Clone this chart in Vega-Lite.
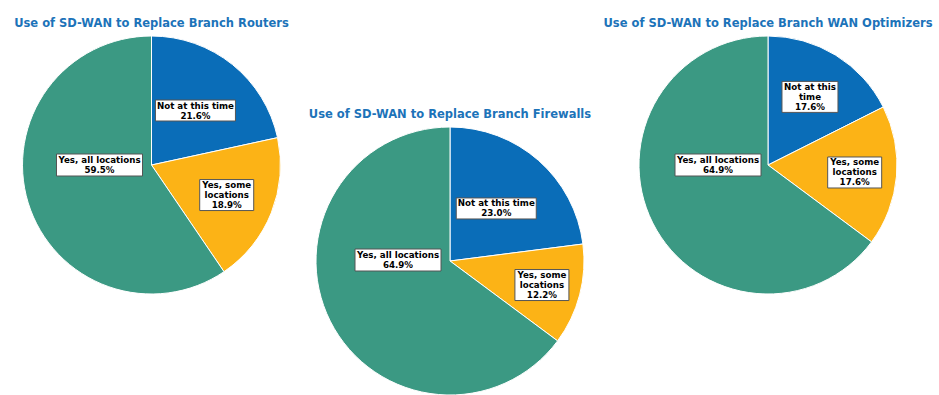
{
  "$schema": "https://vega.github.io/schema/vega-lite/v6.json",
  "padding": {"left": 6, "top": 17, "right": 0, "bottom": 0},
  "background": "white",
  "config": {
    "view": {"stroke": null},
    "title": {"font": "DejaVu Sans", "fontSize": 11.5, "fontWeight": "bold", "color": "#1c73b9", "anchor": "middle", "frame": "group", "offset": 5},
    "text": {"lineBreak": "\n", "font": "DejaVu Sans", "fontWeight": "bold", "fontSize": 8.7, "lineHeight": 10, "baseline": "top", "align": "center", "color": "black"},
    "point": {"size": 4, "filled": true, "fill": "white", "stroke": "#555", "strokeWidth": 1, "opacity": 1}
  },
  "datasets": {
    "routers": [
      {"cat": "Not at this time", "label": "Not at this time", "pct": 0.216, "order": 1},
      {"cat": "Yes, some locations", "label": "Yes, some\nlocations", "pct": 0.189, "order": 2},
      {"cat": "Yes, all locations", "label": "Yes, all locations", "pct": 0.595, "order": 3}
    ],
    "firewalls": [
      {"cat": "Not at this time", "label": "Not at this time", "pct": 0.230, "order": 1},
      {"cat": "Yes, some locations", "label": "Yes, some\nlocations", "pct": 0.122, "order": 2},
      {"cat": "Yes, all locations", "label": "Yes, all locations", "pct": 0.649, "order": 3}
    ],
    "optimizers": [
      {"cat": "Not at this time", "label": "Not at this\ntime", "pct": 0.176, "order": 1},
      {"cat": "Yes, some locations", "label": "Yes, some\nlocations", "pct": 0.176, "order": 2},
      {"cat": "Yes, all locations", "label": "Yes, all locations", "pct": 0.649, "order": 3}
    ]
  },
  "spacing": 0,
  "resolve": {"scale": {"shape": "independent", "color": "independent", "x": "independent", "y": "independent"}},
  "hconcat": [
    {
      "width": 291, "height": 258,
      "title": "Use of SD-WAN to Replace Branch Routers",
      "data": {"name": "routers"},
      "transform": [
        {"joinaggregate": [{"op": "sum", "field": "pct", "as": "total"}]},
        {"window": [{"op": "sum", "field": "pct", "as": "cum"}], "sort": [{"field": "order", "order": "ascending"}], "frame": [null, 0]},
        {"calculate": "2 * PI * (datum.cum - datum.pct / 2) / datum.total", "as": "mid"},
        {"calculate": "datum.cat === 'Not at this time' ? 70 : 81", "as": "lr"},
        {"calculate": "datum.cat === 'Yes, all locations' ? -52 : datum.lr * sin(datum.mid)", "as": "bx"},
        {"calculate": "datum.cat === 'Yes, all locations' ? 0 : datum.lr * cos(datum.mid)", "as": "by"},
        {"calculate": "indexof(datum.label, '\\n') >= 0 ? 5 : 0", "as": "nl"},
        {"calculate": "datum.by + datum.nl", "as": "ty"},
        {"calculate": "datum.by - datum.nl", "as": "py"}
      ],
      "layer": [
        {"mark": {"type": "arc", "stroke": "white", "strokeWidth": 1},
         "encoding": {
           "theta": {"field": "pct", "type": "quantitative", "stack": true},
           "order": {"field": "order", "type": "quantitative"},
           "color": {"field": "cat", "type": "nominal", "legend": null,
             "scale": {"domain": ["Not at this time", "Yes, some locations", "Yes, all locations"], "range": ["#0a6db8", "#fcb316", "#3b9983"]}}}},
        {"mark": {"type": "point"},
         "encoding": {
           "x": {"field": "bx", "type": "quantitative", "scale": {"domain": [-145.5, 145.5], "nice": false, "zero": false}, "axis": null},
           "y": {"field": "by", "type": "quantitative", "scale": {"domain": [-129, 129], "nice": false, "zero": false}, "axis": null},
           "shape": {"field": "cat", "type": "nominal", "legend": null,
             "scale": {"domain": ["Not at this time", "Yes, some locations", "Yes, all locations"], "range": ["M-40,-10.5H40V10.5H-40Z", "M-27,-15.5H27V15.5H-27Z", "M-43,-11H43V11H-43Z"]}}}},
        {"mark": {"type": "text", "dy": -9},
         "encoding": {
           "x": {"field": "bx", "type": "quantitative", "scale": {"domain": [-145.5, 145.5], "nice": false, "zero": false}, "axis": null},
           "y": {"field": "ty", "type": "quantitative", "scale": {"domain": [-129, 129], "nice": false, "zero": false}, "axis": null},
           "text": {"field": "label"}}},
        {"mark": {"type": "text", "dy": 1},
         "encoding": {
           "x": {"field": "bx", "type": "quantitative", "scale": {"domain": [-145.5, 145.5], "nice": false, "zero": false}, "axis": null},
           "y": {"field": "py", "type": "quantitative", "scale": {"domain": [-129, 129], "nice": false, "zero": false}, "axis": null},
           "text": {"field": "pct", "type": "quantitative", "format": ".1%"}}}
      ]
    },
    {
      "spacing": 0,
      "resolve": {"scale": {"shape": "independent", "color": "independent", "x": "independent", "y": "independent"}},
      "vconcat": [
        {"width": 306, "height": 72, "data": {"values": []}, "mark": "point"},
        {
          "width": 306, "height": 268,
          "title": "Use of SD-WAN to Replace Branch Firewalls",
          "data": {"name": "firewalls"},
          "transform": [
            {"joinaggregate": [{"op": "sum", "field": "pct", "as": "total"}]},
            {"window": [{"op": "sum", "field": "pct", "as": "cum"}], "sort": [{"field": "order", "order": "ascending"}], "frame": [null, 0]},
            {"calculate": "2 * PI * (datum.cum - datum.pct / 2) / datum.total", "as": "mid"},
            {"calculate": "datum.cat === 'Not at this time' ? 70 : 95", "as": "lr"},
            {"calculate": "datum.cat === 'Yes, all locations' ? -52 : datum.lr * sin(datum.mid)", "as": "bx"},
            {"calculate": "datum.cat === 'Yes, all locations' ? 1 : datum.lr * cos(datum.mid)", "as": "by"},
            {"calculate": "indexof(datum.label, '\\n') >= 0 ? 5 : 0", "as": "nl"},
            {"calculate": "datum.by + datum.nl", "as": "ty"},
            {"calculate": "datum.by - datum.nl", "as": "py"}
          ],
          "layer": [
            {"mark": {"type": "arc", "stroke": "white", "strokeWidth": 1},
             "encoding": {
               "theta": {"field": "pct", "type": "quantitative", "stack": true},
               "order": {"field": "order", "type": "quantitative"},
               "color": {"field": "cat", "type": "nominal", "legend": null,
                 "scale": {"domain": ["Not at this time", "Yes, some locations", "Yes, all locations"], "range": ["#0a6db8", "#fcb316", "#3b9983"]}}}},
            {"mark": {"type": "point"},
             "encoding": {
               "x": {"field": "bx", "type": "quantitative", "scale": {"domain": [-153, 153], "nice": false, "zero": false}, "axis": null},
               "y": {"field": "by", "type": "quantitative", "scale": {"domain": [-134, 134], "nice": false, "zero": false}, "axis": null},
               "shape": {"field": "cat", "type": "nominal", "legend": null,
                 "scale": {"domain": ["Not at this time", "Yes, some locations", "Yes, all locations"], "range": ["M-40,-10.5H40V10.5H-40Z", "M-27,-15.5H27V15.5H-27Z", "M-43,-11H43V11H-43Z"]}}}},
            {"mark": {"type": "text", "dy": -9},
             "encoding": {
               "x": {"field": "bx", "type": "quantitative", "scale": {"domain": [-153, 153], "nice": false, "zero": false}, "axis": null},
               "y": {"field": "ty", "type": "quantitative", "scale": {"domain": [-134, 134], "nice": false, "zero": false}, "axis": null},
               "text": {"field": "label"}}},
            {"mark": {"type": "text", "dy": 1},
             "encoding": {
               "x": {"field": "bx", "type": "quantitative", "scale": {"domain": [-153, 153], "nice": false, "zero": false}, "axis": null},
               "y": {"field": "py", "type": "quantitative", "scale": {"domain": [-134, 134], "nice": false, "zero": false}, "axis": null},
               "text": {"field": "pct", "type": "quantitative", "format": ".1%"}}}
          ]
        }
      ]
    },
    {
      "width": 330, "height": 258,
      "title": "Use of SD-WAN to Replace Branch WAN Optimizers",
      "data": {"name": "optimizers"},
      "transform": [
        {"joinaggregate": [{"op": "sum", "field": "pct", "as": "total"}]},
        {"window": [{"op": "sum", "field": "pct", "as": "cum"}], "sort": [{"field": "order", "order": "ascending"}], "frame": [null, 0]},
        {"calculate": "2 * PI * (datum.cum - datum.pct / 2) / datum.total", "as": "mid"},
        {"calculate": "datum.cat === 'Not at this time' ? 80 : 87", "as": "lr"},
        {"calculate": "datum.cat === 'Yes, all locations' ? -50 : datum.lr * sin(datum.mid)", "as": "bx"},
        {"calculate": "datum.cat === 'Yes, all locations' ? 0 : datum.lr * cos(datum.mid)", "as": "by"},
        {"calculate": "indexof(datum.label, '\\n') >= 0 ? 5 : 0", "as": "nl"},
        {"calculate": "datum.by + datum.nl", "as": "ty"},
        {"calculate": "datum.by - datum.nl", "as": "py"}
      ],
      "layer": [
        {"mark": {"type": "arc", "stroke": "white", "strokeWidth": 1},
         "encoding": {
           "theta": {"field": "pct", "type": "quantitative", "stack": true},
           "order": {"field": "order", "type": "quantitative"},
           "color": {"field": "cat", "type": "nominal", "legend": null,
             "scale": {"domain": ["Not at this time", "Yes, some locations", "Yes, all locations"], "range": ["#0a6db8", "#fcb316", "#3b9983"]}}}},
        {"mark": {"type": "point"},
         "encoding": {
           "x": {"field": "bx", "type": "quantitative", "scale": {"domain": [-165, 165], "nice": false, "zero": false}, "axis": null},
           "y": {"field": "by", "type": "quantitative", "scale": {"domain": [-129, 129], "nice": false, "zero": false}, "axis": null},
           "shape": {"field": "cat", "type": "nominal", "legend": null,
             "scale": {"domain": ["Not at this time", "Yes, some locations", "Yes, all locations"], "range": ["M-28,-15.5H28V15.5H-28Z", "M-27,-15.5H27V15.5H-27Z", "M-43,-11H43V11H-43Z"]}}}},
        {"mark": {"type": "text", "dy": -9},
         "encoding": {
           "x": {"field": "bx", "type": "quantitative", "scale": {"domain": [-165, 165], "nice": false, "zero": false}, "axis": null},
           "y": {"field": "ty", "type": "quantitative", "scale": {"domain": [-129, 129], "nice": false, "zero": false}, "axis": null},
           "text": {"field": "label"}}},
        {"mark": {"type": "text", "dy": 1},
         "encoding": {
           "x": {"field": "bx", "type": "quantitative", "scale": {"domain": [-165, 165], "nice": false, "zero": false}, "axis": null},
           "y": {"field": "py", "type": "quantitative", "scale": {"domain": [-129, 129], "nice": false, "zero": false}, "axis": null},
           "text": {"field": "pct", "type": "quantitative", "format": ".1%"}}}
      ]
    }
  ]
}
